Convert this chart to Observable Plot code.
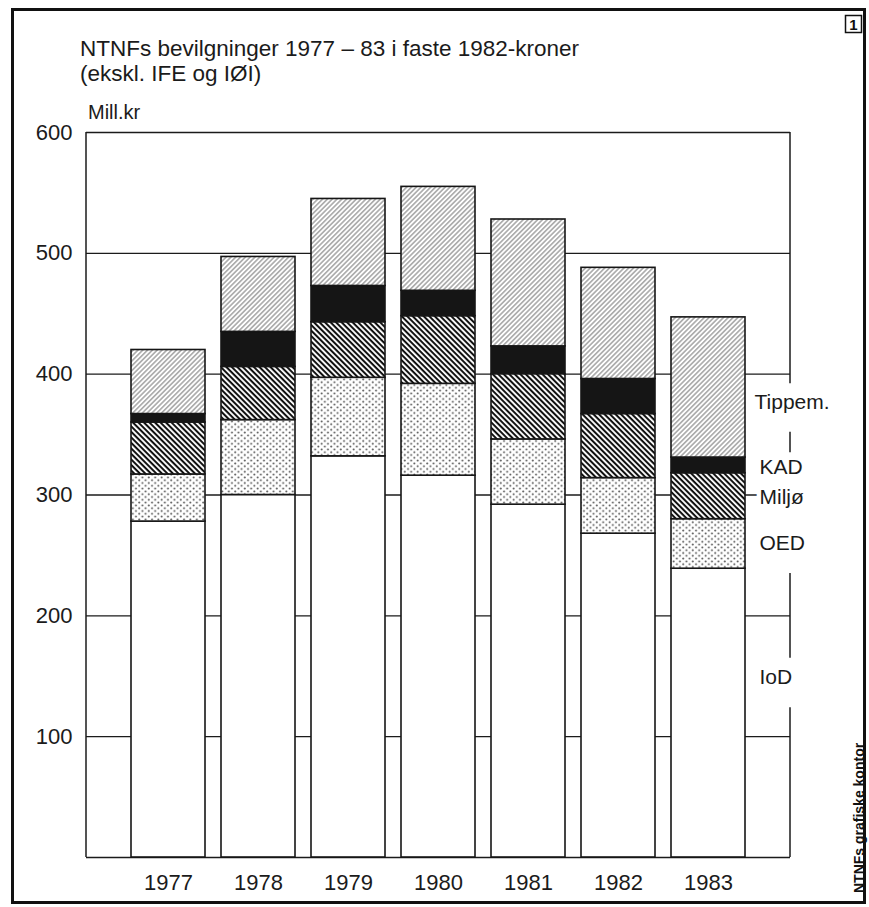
<!DOCTYPE html>
<html>
<head>
<meta charset="utf-8">
<script src="https://cdn.jsdelivr.net/npm/d3@7"></script>
<script src="https://cdn.jsdelivr.net/npm/@observablehq/plot@0.6"></script>
<style>
  html, body { margin: 0; padding: 0; background: #fff; }
  svg { display: block; }
</style>
</head>
<body>
<div id="chart"></div>
<script>
// ---- data (Mill. kr, faste 1982-kroner) ----
const years  = ["1977", "1978", "1979", "1980", "1981", "1982", "1983"];
const series = ["IoD", "OED", "Miljø", "KAD", "Tippem."];
const iod    = [278, 300, 332, 316, 292, 268, 239];
const oed    = [ 39,  62,  65,  76,  54,  46,  41];
const miljo  = [ 43,  44,  46,  56,  54,  53,  38];
const kad    = [  7,  29,  30,  21,  23,  29,  13];
const tippem = [ 53,  62,  72,  86, 105,  92, 116];
const yTicks = [100, 200, 300, 400, 500, 600];

// legend label anchors (value units) and bracket segments on the right edge
const legendY = [149, 260, 298, 323, 377];
const bracket = [[600, 392], [352, 335], [235, 165], [124, 0]];

const titleLines = ["NTNFs bevilgninger 1977 – 83 i faste 1982-kroner", "(ekskl. IFE og IØI)"];
const unitLabel = "Mill.kr";
const creditText = "NTNFs grafiske kontor";
const figNumber = "1";

const values = [iod, oed, miljo, kad, tippem];
const data = years.flatMap((year, i) =>
  series.map((s, j) => ({year, series: s, value: values[j][i]})));

const FONT = "'Liberation Sans', Arial, Helvetica, sans-serif";
const INK = "#1b1b1b";

const chart = Plot.plot({
  width: 869,
  height: 907,
  marginLeft: 86,
  marginRight: 79,
  marginTop: 132,
  marginBottom: 50,
  style: {fontFamily: FONT, fontSize: "22px", background: "#fff", color: INK},
  x: {domain: years, paddingInner: 0.18, paddingOuter: 0.48, label: null, tickSize: 0, tickPadding: 17},
  y: {domain: [0, 600], ticks: yTicks, label: null, tickSize: 0, tickPadding: 14},
  color: {domain: series, range: ["#ffffff", "url(#p-oed)", "url(#p-miljo)", "#151515", "url(#p-tipp)"]},
  marks: [
    Plot.ruleY(yTicks, {stroke: INK, strokeWidth: 1.4}),
    Plot.ruleY([0], {stroke: INK, strokeWidth: 1.5}),
    Plot.barY(data, Plot.stackY({
      x: "year", y: "value", fill: "series", order: series,
      stroke: "#161616", strokeWidth: 1.6
    })),
    ...series.map((s, j) => Plot.text([s], {
      x: () => "1983", y: () => legendY[j], text: d => d,
      dx: s === "Tippem." ? 46 : 51, textAnchor: "start",
      fontSize: 21, fill: INK, stroke: "#fff", strokeWidth: 9
    }))
  ]
});

document.getElementById("chart").appendChild(chart);

// ---- decorations using the plot's own scales ----
const svg = d3.select(chart);
const yS = chart.scale("y");
const Y = v => yS.apply(v);
const xLeft = 86, xRight = 869 - 79;

const defs = svg.insert("defs", ":first-child");
// Tippem.: thin "/" hatching
const pt = defs.append("pattern").attr("id", "p-tipp").attr("patternUnits", "userSpaceOnUse")
  .attr("width", 3.4).attr("height", 10).attr("patternTransform", "rotate(45)");
pt.append("rect").attr("width", 3.4).attr("height", 10).attr("fill", "#fff");
pt.append("line").attr("x1", 1.7).attr("x2", 1.7).attr("y1", -1).attr("y2", 11)
  .attr("stroke", "#444").attr("stroke-width", 0.8);
// Miljø: heavy "\" hatching
const pm = defs.append("pattern").attr("id", "p-miljo").attr("patternUnits", "userSpaceOnUse")
  .attr("width", 3.9).attr("height", 10).attr("patternTransform", "rotate(-45)");
pm.append("rect").attr("width", 3.9).attr("height", 10).attr("fill", "#fff");
pm.append("line").attr("x1", 1.9).attr("x2", 1.9).attr("y1", -1).attr("y2", 11)
  .attr("stroke", "#111").attr("stroke-width", 2);
// OED: stipple dots
const po = defs.append("pattern").attr("id", "p-oed").attr("patternUnits", "userSpaceOnUse")
  .attr("width", 6.4).attr("height", 5.6);
po.append("rect").attr("width", 6.4).attr("height", 5.6).attr("fill", "#fff");
po.append("circle").attr("cx", 1.6).attr("cy", 1.4).attr("r", 1).attr("fill", "#555");
po.append("circle").attr("cx", 4.8).attr("cy", 4.2).attr("r", 1).attr("fill", "#555");

// left axis line
svg.append("line").attr("x1", xLeft).attr("x2", xLeft).attr("y1", Y(0)).attr("y2", Y(600))
  .attr("stroke", INK).attr("stroke-width", 1.5);
// right bracket segments
bracket.forEach(([a, b]) => {
  svg.append("line").attr("x1", xRight).attr("x2", xRight).attr("y1", Y(a)).attr("y2", Y(b))
    .attr("stroke", INK).attr("stroke-width", 1.5);
});

// outer border
svg.append("rect").attr("x", 12.5).attr("y", 9.5).attr("width", 852).attr("height", 893)
  .attr("fill", "none").attr("stroke", "#111").attr("stroke-width", 3);

const addText = (x, y, size, txt, extra = {}) => {
  const t = svg.append("text").attr("x", x).attr("y", y).attr("font-size", size)
    .attr("fill", INK).attr("font-family", FONT).attr("text-anchor", "start").text(txt);
  Object.entries(extra).forEach(([k, v]) => t.attr(k, v));
  return t;
};

// title
addText(80, 56, 22.5, titleLines[0]);
addText(80, 81, 22.5, titleLines[1]);
addText(88, 119, 20, unitLabel);

// figure number box
svg.append("rect").attr("x", 845.5).attr("y", 15.5).attr("width", 16).attr("height", 17)
  .attr("fill", "none").attr("stroke", "#111").attr("stroke-width", 1.5);
addText(853.5, 30, 15, figNumber, {"text-anchor": "middle", "font-weight": "bold", fill: "#111"});

// vertical credit
svg.append("text").attr("transform", "translate(864,893) rotate(-90)")
  .attr("text-anchor", "start")
  .attr("font-size", 14).attr("font-weight", "bold").attr("fill", "#111")
  .attr("font-family", FONT).text(creditText);
</script>
</body>
</html>
